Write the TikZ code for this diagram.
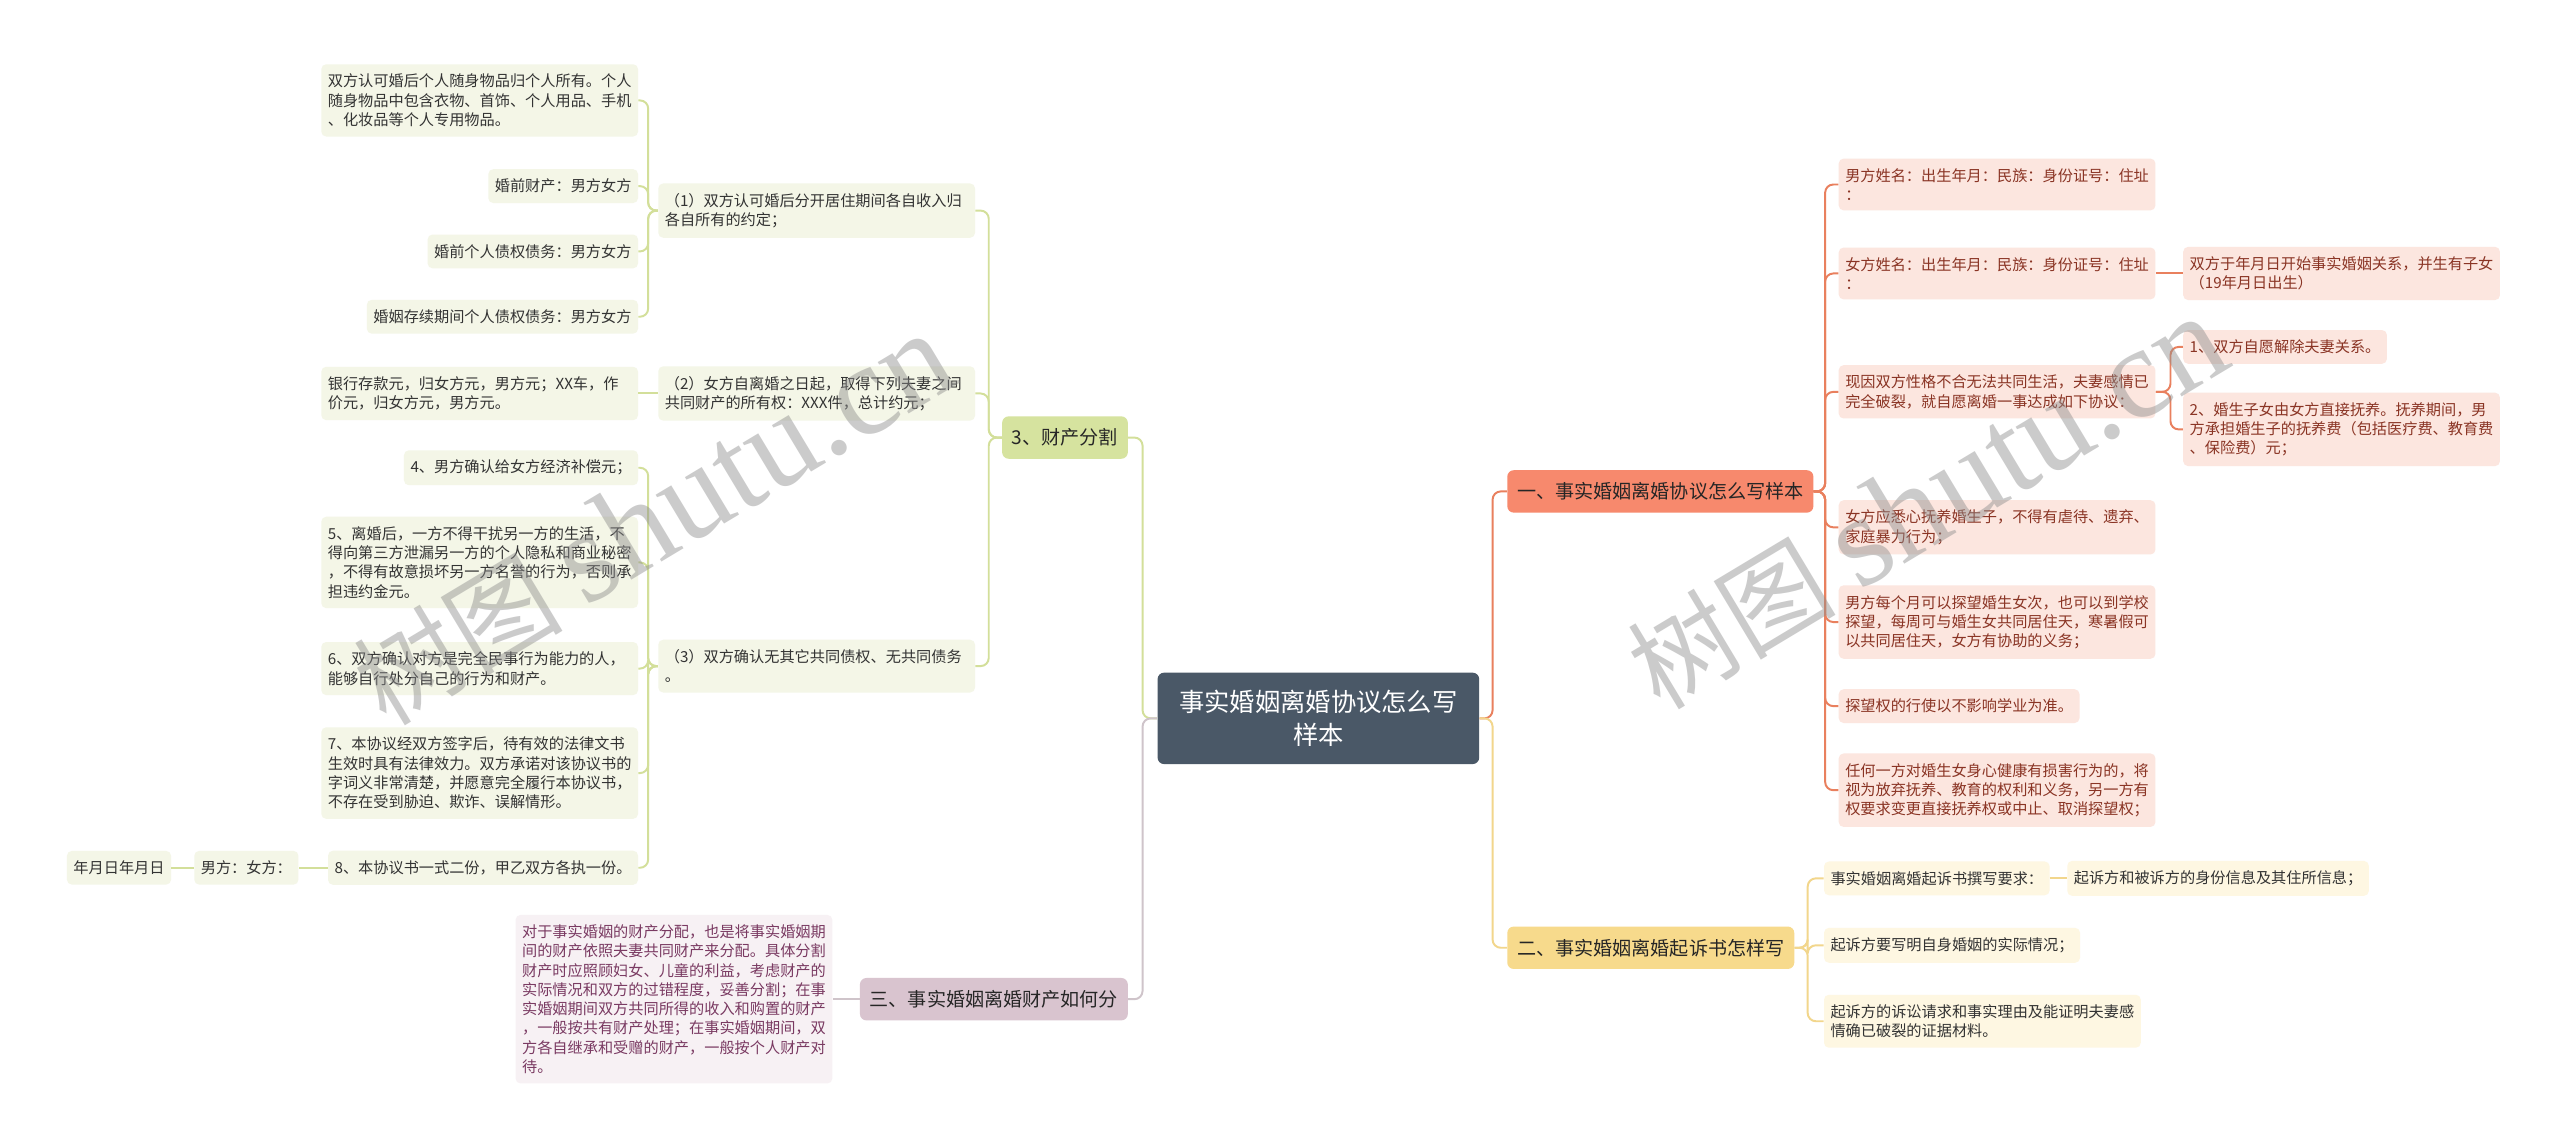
\documentclass[tikz,border=0pt]{standalone}
\usepackage{fontspec}
\setmainfont{Noto Sans CJK SC}
\newfontfamily\cjk{Noto Sans CJK SC}
\newfontfamily\wmlat{Liberation Serif}
\definecolor{rootfill}{HTML}{4A5867}
\definecolor{ofill}{HTML}{FCE6DF}
\definecolor{otext}{HTML}{8A3424}
\definecolor{obr}{HTML}{F7896D}
\definecolor{oln}{HTML}{E9805E}
\definecolor{yfill}{HTML}{FEF7E2}
\definecolor{ybr}{HTML}{F7DA8C}
\definecolor{yln}{HTML}{F2D68C}
\definecolor{gfill}{HTML}{F4F6E7}
\definecolor{gbr}{HTML}{D6E39F}
\definecolor{gln}{HTML}{D3DF9A}
\definecolor{mfill}{HTML}{F7F1F4}
\definecolor{mbr}{HTML}{D9C4CF}
\definecolor{mln}{HTML}{CFC4CA}
\definecolor{mtext}{HTML}{7A3A62}
\definecolor{dtext}{HTML}{333333}
\newcommand\lfnt{\cjk\fontsize{9.3}{11.8}\selectfont}
\newcommand\bfnt{\cjk\fontsize{11.7}{14}\selectfont}
\newcommand\rfnt{\cjk\fontsize{15.5}{20.5}\selectfont}
\tikzset{
  box/.style={rectangle, rounded corners=3pt, inner xsep=4pt, inner ysep=6pt, align=left, font=\lfnt},
  wide/.style={text width=186pt},
  oleaf/.style={box, fill=ofill, text=otext},
  yleaf/.style={box, fill=yfill, text=dtext},
  gleaf/.style={box, fill=gfill, text=dtext},
  mleaf/.style={box, fill=mfill, text=mtext},
  branch/.style={rectangle, rounded corners=4pt, inner xsep=6pt, minimum height=26pt, font=\bfnt, text=black!85},
  rootbox/.style={rectangle, rounded corners=4pt, fill=rootfill, text=white, align=center, minimum width=197pt, minimum height=56pt, font=\rfnt},
  conn/.style={line width=1.2pt, rounded corners=5pt},
  oline/.style={conn, draw=oln},
  yline/.style={conn, draw=yln},
  gline/.style={conn, draw=gln},
  mline/.style={conn, draw=mln},
  wmark/.style={rotate=31, text=black!45, opacity=0.45}
}
\begin{document}
\begin{tikzpicture}[x=1pt,y=-1pt]
\useasboundingbox (0,0) rectangle (1568,703);
\fill[white] (0,0) rectangle (1568,703);
% root
\node[rootbox] (root) at (807.5,440) {事实婚姻离婚协议怎么写\\样本};
% branches
\node[branch, fill=obr, anchor=west] (b1) at (923,301) {一、事实婚姻离婚协议怎么写样本};
\node[branch, fill=ybr, anchor=west] (b2) at (923,580.5) {二、事实婚姻离婚起诉书怎样写};
\node[branch, fill=gbr, anchor=east] (b3) at (691,268) {3、财产分割};
\node[branch, fill=mbr, anchor=east] (b4) at (691,612) {三、事实婚姻离婚财产如何分};
% branch 1 children
\node[oleaf, wide, anchor=west] (c1) at (1126,113) {男方姓名：出生年月：民族：身份证号：住址\\：};
\node[oleaf, wide, anchor=west] (c2) at (1126,167.5) {女方姓名：出生年月：民族：身份证号：住址\\：};
\node[oleaf, wide, anchor=west] (c2a) at (1337,167.5) {双方于年月日开始事实婚姻关系，并生有子女\\（19年月日出生）};
\node[oleaf, wide, anchor=west] (c3) at (1126,240) {现因双方性格不合无法共同生活，夫妻感情已\\完全破裂，就自愿离婚一事达成如下协议：};
\node[oleaf, anchor=west] (c3a) at (1337,212.5) {1、双方自愿解除夫妻关系。};
\node[oleaf, wide, anchor=west] (c3b) at (1337,263) {2、婚生子女由女方直接抚养。抚养期间，男\\方承担婚生子的抚养费（包括医疗费、教育费\\、保险费）元；};
\node[oleaf, wide, anchor=west] (c4) at (1126,323) {女方应悉心抚养婚生子，不得有虐待、遗弃、\\家庭暴力行为；};
\node[oleaf, wide, anchor=west] (c5) at (1126,381) {男方每个月可以探望婚生女次，也可以到学校\\探望，每周可与婚生女共同居住天，寒暑假可\\以共同居住天，女方有协助的义务；};
\node[oleaf, anchor=west] (c6) at (1126,432.5) {探望权的行使以不影响学业为准。};
\node[oleaf, wide, anchor=west] (c7) at (1126,484) {任何一方对婚生女身心健康有损害行为的，将\\视为放弃抚养、教育的权利和义务，另一方有\\权要求变更直接抚养权或中止、取消探望权；};
% branch 2 children
\node[yleaf, anchor=west] (d1) at (1117,538) {事实婚姻离婚起诉书撰写要求：};
\node[yleaf, anchor=west] (d1a) at (1266,538) {起诉方和被诉方的身份信息及其住所信息；};
\node[yleaf, anchor=west] (d2) at (1117,579) {起诉方要写明自身婚姻的实际情况；};
\node[yleaf, wide, anchor=west] (d3) at (1117,625.5) {起诉方的诉讼请求和事实理由及能证明夫妻感\\情确已破裂的证据材料。};
% branch 3 children
\node[gleaf, wide, anchor=west] (e1) at (403,129) {（1）双方认可婚后分开居住期间各自收入归\\各自所有的约定；};
\node[gleaf, wide, anchor=west] (e2) at (403,241) {（2）女方自离婚之日起，取得下列夫妻之间\\共同财产的所有权：XXX件，总计约元；};
\node[gleaf, wide, anchor=west] (e3) at (403,408) {（3）双方确认无其它共同债权、无共同债务\\。};
\node[gleaf, wide, anchor=east] (f1) at (391,61.5) {双方认可婚后个人随身物品归个人所有。个人\\随身物品中包含衣物、首饰、个人用品、手机\\、化妆品等个人专用物品。};
\node[gleaf, anchor=east] (f2) at (391,114) {婚前财产：男方女方};
\node[gleaf, anchor=east] (f3) at (391,154) {婚前个人债权债务：男方女方};
\node[gleaf, anchor=east] (f4) at (391,194) {婚姻存续期间个人债权债务：男方女方};
\node[gleaf, wide, anchor=east] (g1) at (391,241) {银行存款元，归女方元，男方元；XX车，作\\价元，归女方元，男方元。};
\node[gleaf, anchor=east] (h1) at (391,286.5) {4、男方确认给女方经济补偿元；};
\node[gleaf, wide, anchor=east] (h2) at (391,344.5) {5、离婚后，一方不得干扰另一方的生活，不\\得向第三方泄漏另一方的个人隐私和商业秘密\\，不得有故意损坏另一方名誉的行为，否则承\\担违约金元。};
\node[gleaf, wide, anchor=east] (h3) at (391,409.5) {6、双方确认对方是完全民事行为能力的人，\\能够自行处分自己的行为和财产。};
\node[gleaf, wide, anchor=east] (h4) at (391,473.5) {7、本协议经双方签字后，待有效的法律文书\\生效时具有法律效力。双方承诺对该协议书的\\字词义非常清楚，并愿意完全履行本协议书，\\不存在受到胁迫、欺诈、误解情形。};
\node[gleaf, anchor=east] (h5) at (391,531.5) {8、本协议书一式二份，甲乙双方各执一份。};
\node[gleaf, anchor=east] (h5a) at (183,531.5) {男方：女方：};
\node[gleaf, anchor=east] (h5b) at (105,531.5) {年月日年月日};
% branch 4 child
\node[mleaf, wide, anchor=east] (m1) at (510,612) {对于事实婚姻的财产分配，也是将事实婚姻期\\间的财产依照夫妻共同财产来分配。具体分割\\财产时应照顾妇女、儿童的利益，考虑财产的\\实际情况和双方的过错程度，妥善分割；在事\\实婚姻期间双方共同所得的收入和购置的财产\\，一般按共有财产处理；在事实婚姻期间，双\\方各自继承和受赠的财产，一般按个人财产对\\待。};
% connectors root
\draw[oline] (root.east) -- ++(8,0) |- (b1.west);
\draw[yline] (root.east) -- ++(8,0) |- (b2.west);
\draw[gline] (root.west) -- ++(-9,0) |- (b3.east);
\draw[mline] (root.west) -- ++(-9,0) |- (b4.east);
% branch 1
\foreach \n in {c1,c2,c3,c4,c5,c6,c7} \draw[oline] (b1.east) -- ++(7,0) |- (\n.west);
\draw[oline] (c2.east) -- (c2a.west);
\draw[oline] (c3.east) -- ++(9,0) |- (c3a.west);
\draw[oline] (c3.east) -- ++(9,0) |- (c3b.west);
% branch 2
\foreach \n in {d1,d2,d3} \draw[yline] (b2.east) -- ++(8,0) |- (\n.west);
\draw[yline] (d1.east) -- (d1a.west);
% branch 3
\foreach \n in {e1,e2,e3} \draw[gline] (b3.west) -- ++(-8,0) |- (\n.east);
\foreach \n in {f1,f2,f3,f4} \draw[gline] (e1.west) -- ++(-6,0) |- (\n.east);
\draw[gline] (e2.west) -- (g1.east);
\foreach \n in {h1,h2,h3,h4,h5} \draw[gline] (e3.west) -- ++(-6,0) |- (\n.east);
\draw[gline] (h5.west) -- (h5a.east);
\draw[gline] (h5a.west) -- (h5b.east);
% branch 4
\draw[mline] (b4.west) -- (m1.east);
% watermarks (on top, translucent)
\node[wmark] (wm1) at (400,318) {\cjk\fontsize{64}{66}\selectfont 树图 \wmlat\fontsize{80}{82}\selectfont shutu.cn};
\node[wmark] (wm2) at (1180,308) {\cjk\fontsize{64}{66}\selectfont 树图 \wmlat\fontsize{80}{82}\selectfont shutu.cn};
\end{tikzpicture}
\end{document}
